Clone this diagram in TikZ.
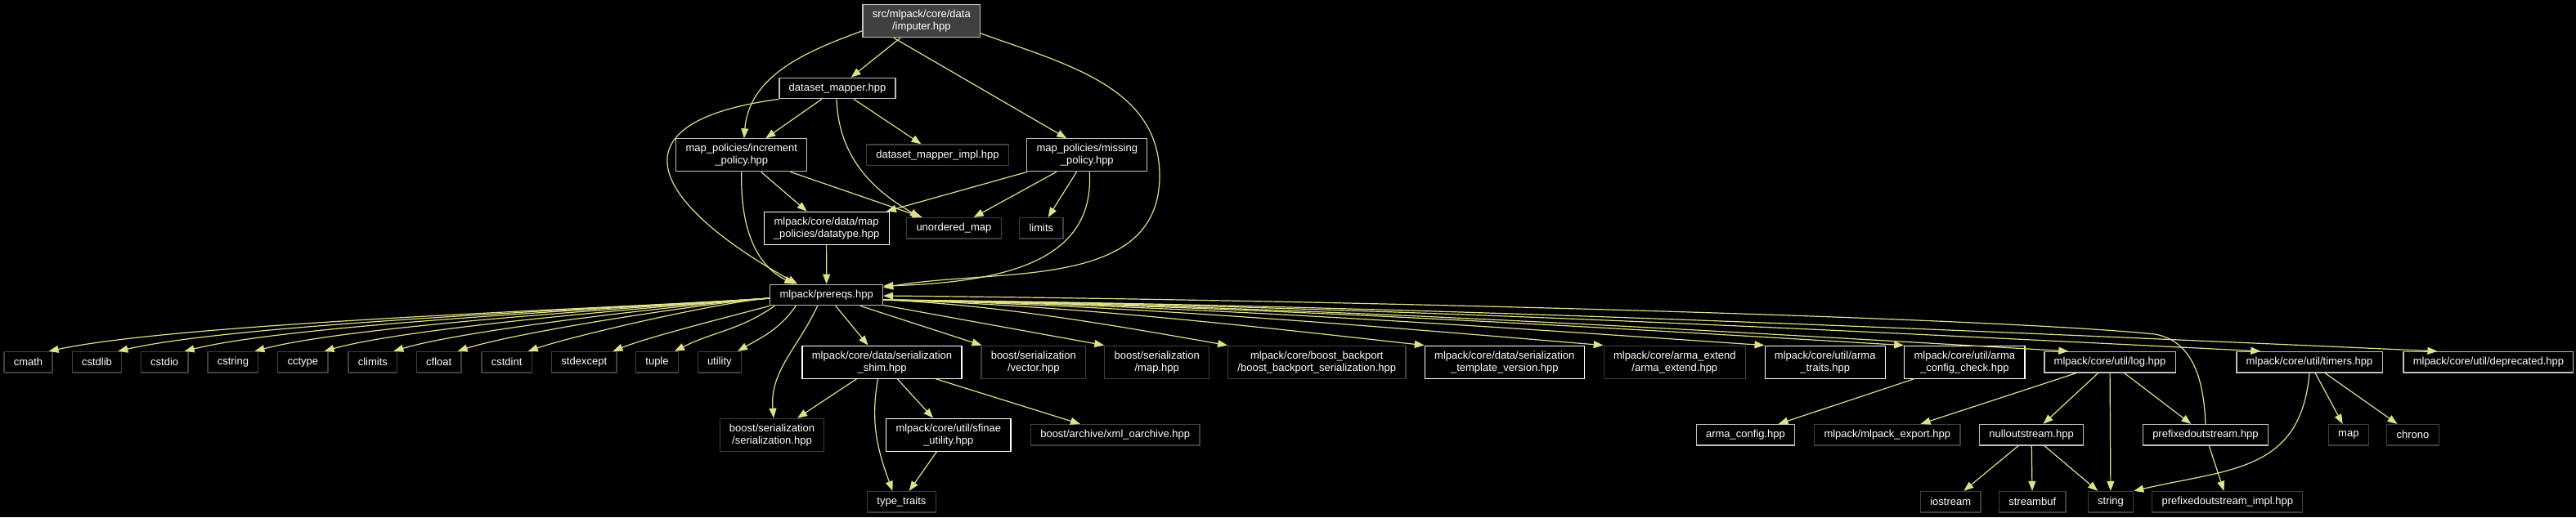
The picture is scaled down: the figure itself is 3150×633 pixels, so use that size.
\documentclass[tikz,border=0pt]{standalone}
\usepackage{fontspec}
\setmainfont{Liberation Sans}
\usepackage{xcolor}
\definecolor{edgeyellow}{RGB}{224, 224, 140}
\definecolor{docgrey}{RGB}{191, 191, 191}
\definecolor{extgrey}{RGB}{64, 64, 64}
\definecolor{rootfill}{RGB}{64, 64, 64}
\usepackage{tikz}
\usetikzlibrary{arrows.meta}

\begin{document}
\begin{tikzpicture}[x=1pt, y=1pt,
        filebox/.style={rectangle, text=white, fill=black, line width=1.2pt, align=center, inner xsep=11.8pt, inner ysep=6.4pt, minimum height=25.5pt, font=\fontsize{13}{15}\selectfont},
        block/.style={filebox, draw=white},
        greyblock/.style={filebox, draw=docgrey},
        extblock/.style={filebox, draw=extgrey},
        rootblock/.style={filebox, draw=docgrey, fill=rootfill},
        line/.style={draw=edgeyellow, line width=1.2pt, -{Triangle[length=12pt, width=9pt]}}]

        \fill[black] (0,0) rectangle (3150,-633);
        \useasboundingbox (0,0) rectangle (3150,-633);

        % upper part
        \node [rootblock] (root) at (1126.8,-25.8) {src/mlpack/core/data\\/imputer.hpp};
        \node [greyblock] (dsmap) at (1024,-108) {dataset\_mapper.hpp};
        \node [greyblock] (incr) at (906.8,-189.8) {map\_policies/increment\\\_policy.hpp};
        \node [extblock] (dsimpl) at (1146.5,-189.7) {dataset\_mapper\_impl.hpp};
        \node [greyblock] (miss) at (1329.3,-189.8) {map\_policies/missing\\\_policy.hpp};
        \node [block] (dtype) at (1010.6,-279.2) {mlpack/core/data/map\\\_policies/datatype.hpp};
        \node [extblock] (umap) at (1166.4,-279.3) {unordered\_map};
        \node [extblock] (limits) at (1273.3,-279.3) {limits};
        \node [greyblock] (prereqs) at (1010.7,-361) {mlpack/prereqs.hpp};

        % row of includes of prereqs.hpp
        \foreach \n/\x in {cmath/34.5, cstdlib/118.5, cstdio/201.2, cstring/284.9, cctype/370.4, climits/455.9, cfloat/536.7, cstdint/619.6, stdexcept/714.3, tuple/803.5, utility/879.8}
            \node [extblock] (\n) at (\x,-443.2) {\n};
        \node [block] (shim) at (1078.5,-443.2) {mlpack/core/data/serialization\\\_shim.hpp};
        \node [extblock] (bvec) at (1263.8,-443.2) {boost/serialization\\/vector.hpp};
        \node [extblock] (bmap) at (1414.7,-443.2) {boost/serialization\\/map.hpp};
        \node [extblock] (bbp) at (1610.3,-443.2) {mlpack/core/boost\_backport\\/boost\_backport\_serialization.hpp};
        \node [block] (stv) at (1839.8,-443.2) {mlpack/core/data/serialization\\\_template\_version.hpp};
        \node [extblock] (aext) at (2047.8,-443.2) {mlpack/core/arma\_extend\\/arma\_extend.hpp};
        \node [block] (atraits) at (2231.7,-443.2) {mlpack/core/util/arma\\\_traits.hpp};
        \node [block] (acc) at (2402.3,-443.2) {mlpack/core/util/arma\\\_config\_check.hpp};
        \node [greyblock] (log) at (2580,-443.2) {mlpack/core/util/log.hpp};
        \node [greyblock] (timers) at (2824,-443.2) {mlpack/core/util/timers.hpp};
        \node [greyblock] (depr) at (3042.9,-443.2) {mlpack/core/util/deprecated.hpp};

        % lower rows
        \node [extblock] (bser) at (944,-532.3) {boost/serialization\\/serialization.hpp};
        \node [block] (sfinae) at (1159.8,-532.3) {mlpack/core/util/sfinae\\\_utility.hpp};
        \node [extblock] (xml) at (1363.7,-532.3) {boost/archive/xml\_oarchive.hpp};
        \node [greyblock] (aconf) at (2134.5,-532.3) {arma\_config.hpp};
        \node [extblock] (mexp) at (2307.8,-532.3) {mlpack/mlpack\_export.hpp};
        \node [greyblock] (nullout) at (2484.1,-532.3) {nulloutstream.hpp};
        \node [greyblock] (pfx) at (2696.9,-532.3) {prefixedoutstream.hpp};
        \node [extblock] (smap) at (2871.8,-532.3) {map};
        \node [extblock] (chrono) at (2950.5,-532.3) {chrono};
        \node [extblock] (tt) at (1102.4,-614.2) {type\_traits};
        \node [extblock] (ios) at (2385.2,-614.2) {iostream};
        \node [extblock] (sbuf) at (2485.2,-614.2) {streambuf};
        \node [extblock] (string) at (2581,-614.2) {string};
        \node [extblock] (pfximpl) at (2723.8,-614.2) {prefixedoutstream\_impl.hpp};

        % imputer.hpp
        \path [line] (root) -- (dsmap);
        \path [line] ([yshift=-12]root.west) to[out=200, in=85] ([xshift=3]incr.north);
        \path [line] ([xshift=-34]root.south) -- ([xshift=-25]miss.north);
        \path [line] ([yshift=-15]root.east) to[out=-20, in=90] (1418,-215) to[out=-90, in=10] ([yshift=9]prereqs.east);

        % dataset_mapper.hpp
        \path [line] (dsmap) -- (incr);
        \path [line] (dsmap) -- (dsimpl);
        \path [line] ([xshift=-1]dsmap.south) to[out=-88, in=150] ([xshift=17]umap.north west);
        \path [line] (dsmap.south west) .. controls (740,-150) and (800,-250) .. ([xshift=34]prereqs.north west);

        % policies
        \path [line] (incr) -- (dtype);
        \path [line] (incr) -- (umap);
        \path [line] (incr.south) .. controls (905,-280) and (925,-325) .. ([xshift=30]prereqs.north west);
        \path [line] (miss) -- (dtype);
        \path [line] (miss) -- (umap);
        \path [line] (miss) -- (limits);
        \path [line] ([xshift=3]miss.south) .. controls (1338,-310) and (1250,-345) .. ([yshift=11]prereqs.east);
        \path [line] (dtype) -- (prereqs);

        % prereqs.hpp
        \foreach \n/\a in {cmath/12, cstdlib/13, cstdio/14, cstring/15, cctype/16, climits/17, cfloat/18, cstdint/19}
            \path [line] ([yshift=-4]prereqs.west) to[out=184, in=\a, looseness=0.5] ([xshift=-5]\n.north east);
        \path [line] (prereqs.south west) to[out=195, in=22, looseness=0.6] ([xshift=-5]stdexcept.north east);
        \path [line] ([xshift=6]prereqs.south west) to[out=215, in=27] ([xshift=-5]tuple.north east);
        \path [line] ([xshift=32]prereqs.south west) to[out=235, in=30] ([xshift=-5]utility.north east);
        \path [line] ([xshift=-11]prereqs.south) to[out=-115, in=95] ([xshift=2]bser.north);
        \path [line] (prereqs) -- (shim);
        \path [line] (prereqs) -- (bvec);
        \path [line] (prereqs) -- (bmap.north west);
        \foreach \n/\s/\a/\b/\h in {bbp/0/1220/1361/398, stv/0/1300/1521/398, aext/0/1373/1667/398, atraits/0/1439/1798/398, acc/0/1496/1912/398, log/30/1563/2046/402, timers/30/1641/2203/402, depr/42/1713/2346/402}
            \path [line] ([yshift=-6]prereqs.east) .. controls (\a,-373) and (\b,-\h) .. ([xshift=\s]\n.north west);

        % serialization_shim.hpp
        \path [line] (shim) -- (bser);
        \path [line] ([xshift=-5]shim.south) to[out=-100, in=110] ([xshift=-11]tt.north);
        \path [line] (shim) -- (sfinae);
        \path [line] (shim) -- (xml);
        \path [line] (sfinae) -- (tt);

        % util
        \path [line] (acc) -- (aconf);
        \path [line] (log) -- (mexp);
        \path [line] (log) -- (nullout);
        \path [line] (log) -- (string);
        \path [line] (log) -- (pfx);
        \path [line] (nullout) -- (ios);
        \path [line] (nullout) -- (sbuf);
        \path [line] (nullout) -- (string);
        \path [line] (pfx) -- (pfximpl);
        \path [line] (pfx.north) to[out=92, in=-10] (2635,-409) .. controls (2450,-390) and (1700,-368) .. ([yshift=-1]prereqs.east);
        \path [line] (timers.south) to[out=-95, in=13, looseness=1.2] (string.north east);
        \path [line] (timers) -- (smap);
        \path [line] (timers) -- (chrono);
    \end{tikzpicture}
\end{document}
